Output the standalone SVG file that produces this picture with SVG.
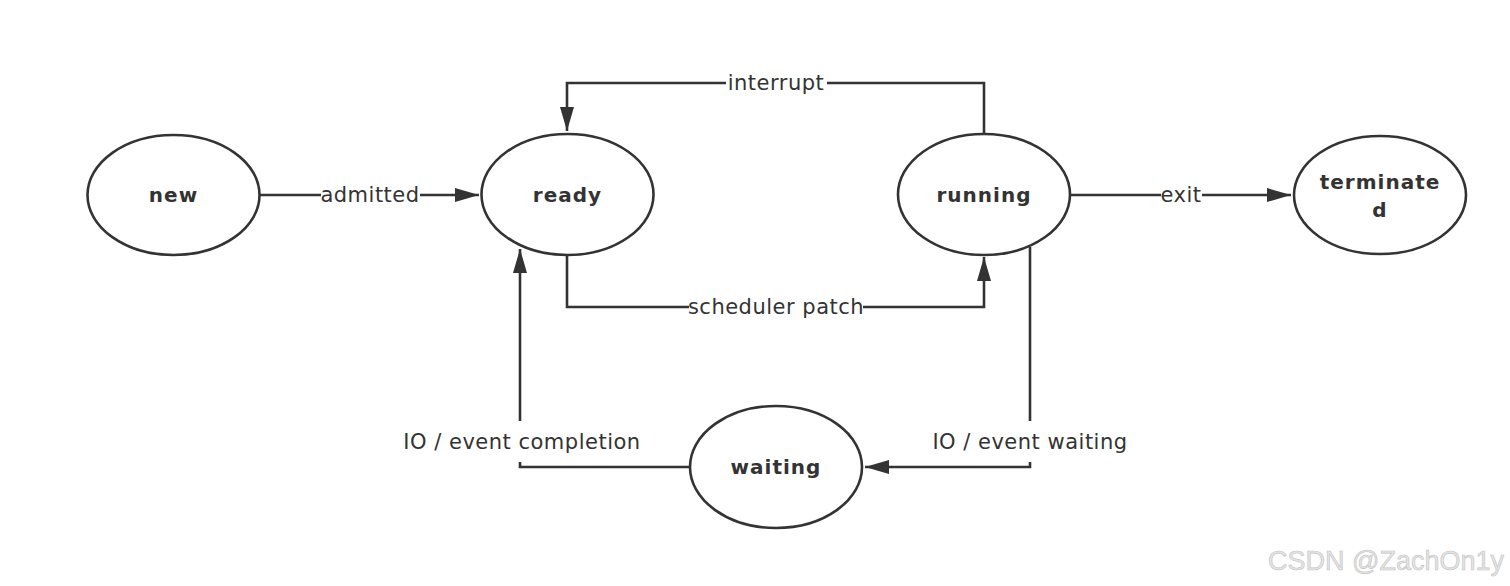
<svg xmlns="http://www.w3.org/2000/svg" width="1510" height="586" viewBox="0 0 1510 586">
<style>
.node ellipse{fill:#fff;stroke:#333;stroke-width:2.6}
.node text{font-family:"DejaVu Sans","Noto Sans",sans-serif;font-weight:bold;font-size:20px;fill:#333;text-anchor:middle;letter-spacing:1px}
.edge{fill:none;stroke:#333;stroke-width:2.6}
.lbl{font-family:"DejaVu Sans","Noto Sans",sans-serif;font-size:21px;fill:#333;text-anchor:middle;letter-spacing:0.5px}
.bg{fill:#fff}
.wm{font-family:"Liberation Sans",Arial,sans-serif;font-size:27px;fill:#e4e4e4;stroke:#c4c4c4;stroke-width:0.6}
</style>
<defs>
<marker id="arr" viewBox="0 0 24 14" refX="24" refY="7" markerWidth="24" markerHeight="14" markerUnits="userSpaceOnUse" orient="auto">
<path d="M0,0 L24,7 L0,14 Z" fill="#333"/>
</marker>
</defs>
<rect width="1510" height="586" fill="#fff"/>
<g id="connectors">
<path class="edge" d="M260,195 H479" marker-end="url(#arr)"/>
<path class="edge" d="M984,133 V83 H567 V131" marker-end="url(#arr)"/>
<path class="edge" d="M567,256 V307 H984 V257" marker-end="url(#arr)"/>
<path class="edge" d="M1070,195 H1291" marker-end="url(#arr)"/>
<path class="edge" d="M1030,247 V467 H865" marker-end="url(#arr)"/>
<path class="edge" d="M690,467 H520 V249" marker-end="url(#arr)"/>
<rect class="bg" x="321" y="183" width="99" height="24"/>
<text class="lbl" x="370" y="202">admitted</text>
<rect class="bg" x="726" y="71" width="101" height="24"/>
<text class="lbl" x="776" y="90">interrupt</text>
<rect class="bg" x="689" y="295" width="174" height="24"/>
<text class="lbl" x="776" y="314">scheduler patch</text>
<rect class="bg" x="1161" y="183" width="41" height="24"/>
<text class="lbl" x="1181" y="202">exit</text>
<rect class="bg" x="398" y="421" width="248" height="41"/>
<text class="lbl" x="522" y="449">IO / event completion</text>
<rect class="bg" x="930" y="421" width="201" height="41"/>
<text class="lbl" x="1030" y="449">IO / event waiting</text>
</g>
<g id="node-new" class="node">
<ellipse cx="173.5" cy="195" rx="86" ry="60"/>
<text x="173.5" y="202">new</text>
</g>
<g id="node-ready" class="node">
<ellipse cx="567.5" cy="194.5" rx="86" ry="60.5"/>
<text x="567.5" y="202">ready</text>
</g>
<g id="node-running" class="node">
<ellipse cx="984" cy="194.5" rx="86" ry="60.5"/>
<text x="984" y="202">running</text>
</g>
<g id="node-terminated" class="node">
<ellipse cx="1380" cy="195" rx="86" ry="59"/>
<text x="1380" y="189">terminate</text>
<text x="1380" y="217">d</text>
</g>
<g id="node-waiting" class="node">
<ellipse cx="776" cy="467" rx="86" ry="61"/>
<text x="776" y="474">waiting</text>
</g>
<text class="wm" x="1268" y="570">CSDN @ZachOn1y</text>
</svg>
